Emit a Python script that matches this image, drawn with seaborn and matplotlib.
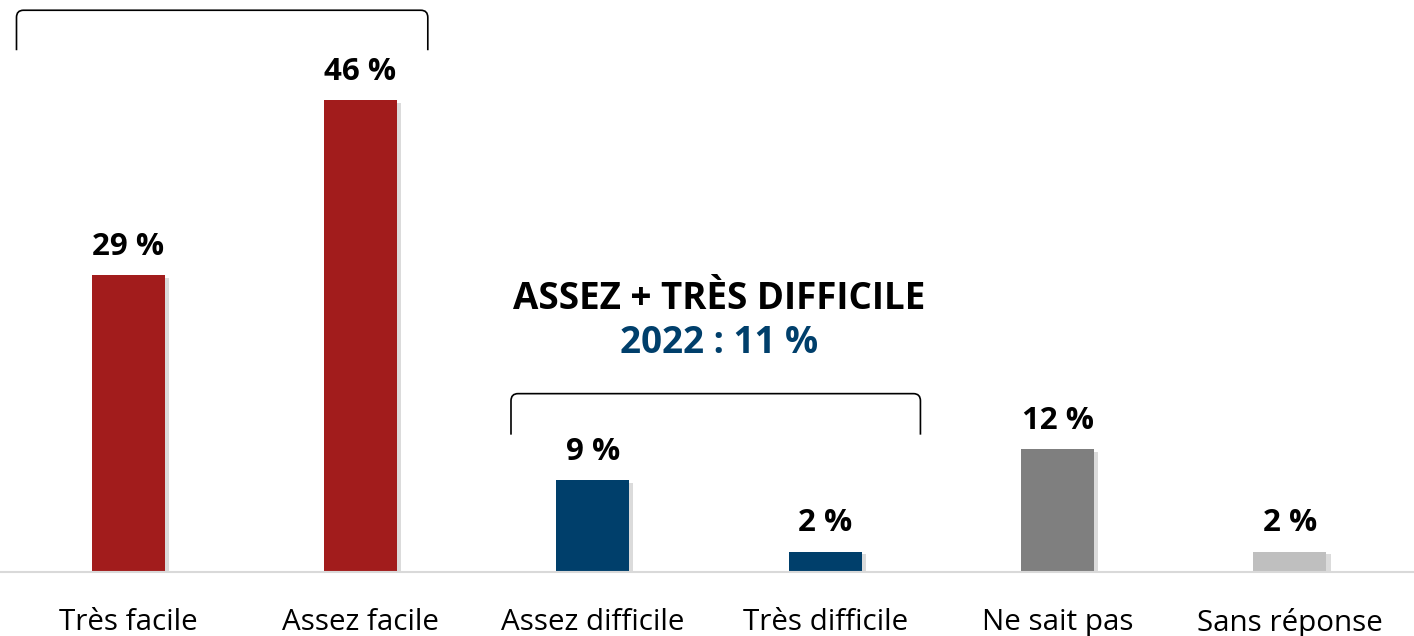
import matplotlib
matplotlib.use("Agg")
import matplotlib.pyplot as plt
import seaborn as sns
import pandas as pd
from matplotlib.path import Path
from matplotlib.patches import PathPatch
import matplotlib.patheffects as pe

categories = ["Très facile", "Assez facile", "Assez difficile", "Très difficile", "Ne sait pas", "Sans réponse"]
values = [29, 46, 9, 2, 12, 2]
colors = ["#A21C1C", "#A21C1C", "#003F6B", "#003F6B", "#7F7F7F", "#BFBFBF"]
value_labels = ["29 %", "46 %", "9 %", "2 %", "12 %", "2 %"]
group_title = "ASSEZ + TRÈS DIFFICILE"
group_sub = "2022 : 11 %"

sns.set_theme(style="white")
plt.rcParams["font.family"] = ["Open Sans", "DejaVu Sans"]

df = pd.DataFrame({"cat": categories, "val": values})

fig = plt.figure(figsize=(14.14, 6.36), dpi=100)
ax = fig.add_axes([0.0, 0.1006, 1.0, 0.8994])

sns.barplot(data=df, x="cat", y="val", hue="cat", palette=colors, width=0.314,
            legend=False, ax=ax, saturation=1, dodge=False)

for p in ax.patches:
    p.set_path_effects([pe.SimplePatchShadow(offset=(3, -2), shadow_rgbFace="#999999", alpha=0.35),
                        pe.Normal()])
    p.set_edgecolor("none")

ax.set_xlim(-0.551, 5.534)
ax.set_ylim(0, 55.8)

for i, (v, lab) in enumerate(zip(values, value_labels)):
    ax.annotate(lab, (i, v), xytext=(0, 14.5), textcoords="offset points",
                ha="center", va="baseline", fontsize=22.5, fontweight="bold", color="black")

def bracket(x0, x1, yb, yt):
    rx, ry = 0.03, 0.7
    verts = [(x0, yb), (x0, yt - ry), (x0, yt), (x0 + rx, yt),
             (x1 - rx, yt), (x1, yt), (x1, yt - ry), (x1, yb)]
    codes = [Path.MOVETO, Path.LINETO, Path.CURVE3, Path.CURVE3,
             Path.LINETO, Path.CURVE3, Path.CURVE3, Path.LINETO]
    ax.add_patch(PathPatch(Path(verts, codes), fill=False, edgecolor="black", lw=1.2,
                           clip_on=False))

bracket(-0.48, 1.29, 50.9, 54.8)
bracket(1.648, 3.41, 13.4, 17.4)

ax.text(2.544, 26.6, group_title, ha="center", va="center", fontsize=26.5,
        fontweight="bold", color="black")
ax.text(2.544, 22.3, group_sub, ha="center", va="center", fontsize=26.5,
        fontweight="bold", color="#003F6B")

ax.set_xlabel("")
ax.set_ylabel("")
ax.set_yticks([])
ax.tick_params(axis="x", length=0, labelsize=21.3, pad=26, colors="black")
for s in ["top", "left", "right"]:
    ax.spines[s].set_visible(False)
ax.spines["bottom"].set_color("#D9D9D9")
ax.spines["bottom"].set_linewidth(1.5)

fig.savefig("out.png", dpi=100)
